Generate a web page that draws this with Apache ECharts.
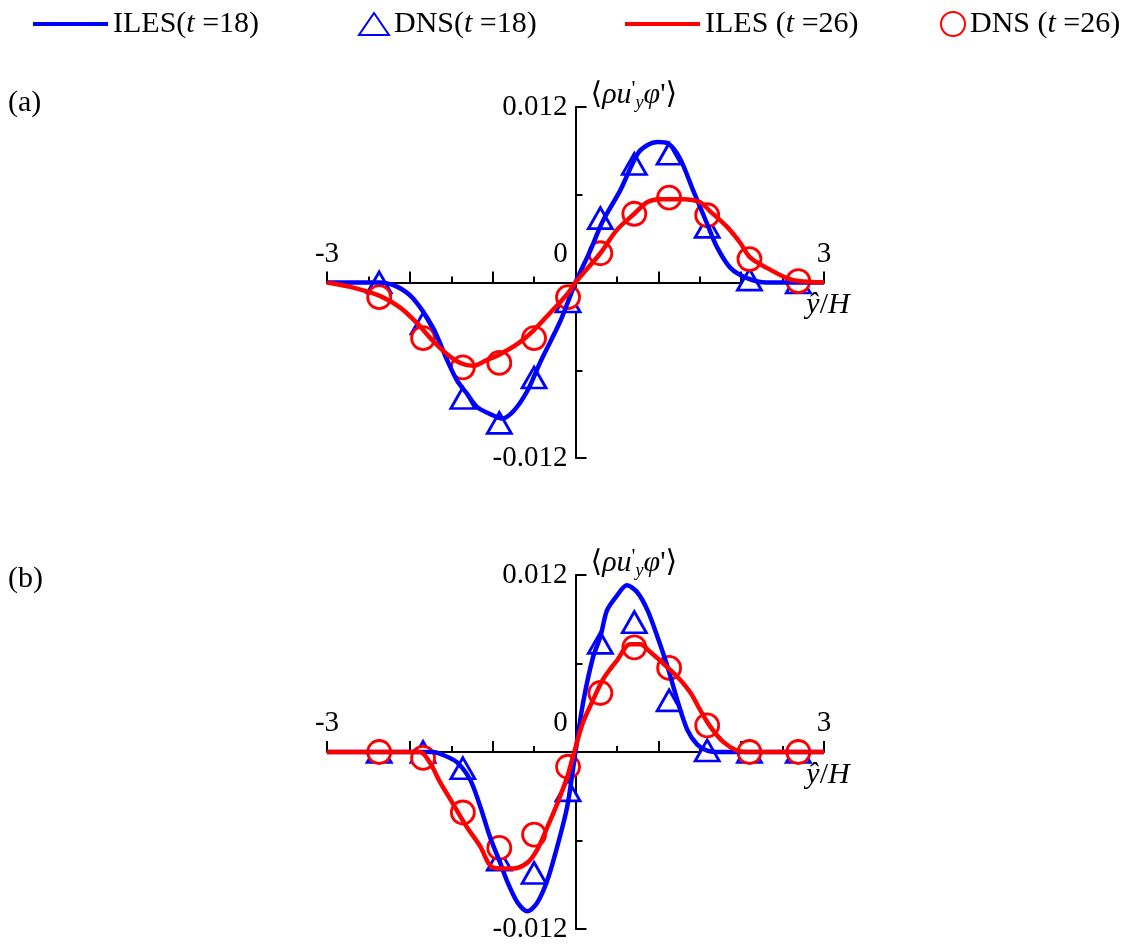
<!DOCTYPE html>
<html>
<head>
<meta charset="utf-8">
<script src="https://cdn.jsdelivr.net/npm/echarts@6.0.0/dist/echarts.min.js"></script>
<style>
  html, body { margin: 0; padding: 0; background: #fff; }
  #chart { width: 1146px; height: 947px; }
</style>
</head>
<body>
<div id="chart"></div>
<script>
// Turbulent scalar flux profiles <rho u'_y phi'> across y/H, two cases (a) and (b)

// DNS sample locations (shared by both panels)
const dnsX = [-2.37, -1.84, -1.36, -0.92, -0.50, -0.09, 0.30, 0.71, 1.13, 1.59, 2.10, 2.69];

// Panel (a)
const dnsA18 = [0, -0.0028, -0.0079, -0.0096, -0.0065, -0.0013, 0.0044, 0.0081, 0.0088, 0.0038, 0.0002, 0];
const dnsA26 = [-0.0010, -0.0038, -0.0058, -0.0055, -0.0038, -0.0010, 0.0020, 0.0047, 0.0058, 0.0046, 0.0016, 0.0001];
const ilesA18X = [-3, -2.6, -2.37, -2.15, -1.96, -1.72, -1.55, -1.43, -1.31, -1.19, -1.03, -0.89, -0.75, -0.58, -0.43, -0.18, 0, 0.18, 0.33, 0.54, 0.75, 0.87, 0.99, 1.12, 1.26, 1.42, 1.59, 1.71, 1.87, 2.07, 2.31, 3];
const ilesA18Y = [0, 0, 0, -0.0003, -0.0011, -0.0031, -0.0053, -0.0067, -0.0076, -0.0085, -0.0090, -0.0093, -0.0088, -0.0074, -0.0055, -0.0026, 0, 0.0022, 0.0042, 0.0063, 0.0088, 0.0094, 0.0096, 0.0095, 0.0085, 0.0063, 0.0040, 0.0024, 0.0010, 0.0003, 0, 0];
const ilesA26X = [-3, -2.72, -2.37, -2.12, -1.91, -1.72, -1.55, -1.39, -1.24, -1.07, -0.91, -0.70, -0.51, -0.31, -0.10, 0, 0.30, 0.50, 0.71, 0.87, 1.02, 1.30, 1.50, 1.62, 1.83, 1.99, 2.11, 2.31, 2.55, 2.69, 3];
const ilesA26Y = [0, -0.0003, -0.0009, -0.0017, -0.0028, -0.0040, -0.0049, -0.0055, -0.0057, -0.0053, -0.0049, -0.0042, -0.0033, -0.0021, -0.0008, 0, 0.0020, 0.0036, 0.0047, 0.0055, 0.0057, 0.0057, 0.0055, 0.0049, 0.0038, 0.0027, 0.0017, 0.0010, 0.0003, 0.0001, 0];

// Panel (b)
const dnsB18 = [0, 0, -0.0011, -0.0073, -0.0082, -0.0026, 0.0074, 0.0088, 0.0035, 0.0001, 0, 0];
const dnsB26 = [0, -0.0004, -0.0041, -0.0065, -0.0056, -0.0010, 0.0040, 0.0071, 0.0057, 0.0018, 0, 0];
const ilesB18X = [-3, -1.72, -1.60, -1.43, -1.27, -1.15, -1.03, -0.91, -0.83, -0.70, -0.58, -0.46, -0.34, -0.22, -0.10, 0, 0.09, 0.21, 0.30, 0.38, 0.50, 0.62, 0.75, 0.87, 0.99, 1.11, 1.23, 1.35, 1.47, 1.59, 1.75, 3];
const ilesB18Y = [0, 0, -0.0002, -0.0007, -0.0019, -0.0037, -0.0058, -0.0075, -0.0087, -0.0102, -0.0108, -0.0102, -0.0087, -0.0064, -0.0037, 0, 0.0033, 0.0064, 0.0078, 0.0096, 0.0106, 0.0113, 0.0108, 0.0096, 0.0078, 0.0058, 0.0035, 0.0015, 0.0005, 0.0001, 0, 0];
const ilesB26X = [-3, -1.88, -1.76, -1.63, -1.48, -1.31, -1.15, -1.03, -0.91, -0.75, -0.58, -0.46, -0.34, -0.22, -0.10, -0.03, 0.09, 0.21, 0.33, 0.50, 0.66, 0.78, 0.90, 1.06, 1.23, 1.39, 1.51, 1.63, 1.78, 1.95, 2.11, 3];
const ilesB26Y = [0, 0, -0.0007, -0.0021, -0.0035, -0.0051, -0.0064, -0.0077, -0.0079, -0.0079, -0.0075, -0.0066, -0.0051, -0.0035, -0.0017, -0.0003, 0.0020, 0.0035, 0.0049, 0.0062, 0.0073, 0.0073, 0.0068, 0.0060, 0.0051, 0.0040, 0.0028, 0.0017, 0.0007, 0.0001, 0, 0];

// Axis ranges and tick labels
const xRange = [-3, 3];
const yRange = [-0.012, 0.012];
const xTickLabels = { '-3': '-3', '0': '{z|0}', '3': '3' };
const panelLabels = ['(a)', '(b)'];

// Series names and their legend texts
const names = ['ILES t=18', 'DNS t=18', 'ILES t=26', 'DNS t=26'];
const legendTexts = {
  'ILES t=18': 'ILES({t|t} =18)',
  'DNS t=18': 'DNS({t|t} =18)',
  'ILES t=26': 'ILES ({t|t} =26)',
  'DNS t=26': 'DNS ({t|t} =26)'
};

const FONT = '"Liberation Serif", "Times New Roman", "DejaVu Serif", serif';
const BLUE = '#0000ff';
const RED = '#ff0000';

const zip = (xs, ys) => xs.map((x, i) => [x, ys[i]]);

const grids = [
  { left: 327, width: 497, top: 107, height: 351 },
  { left: 327, width: 497, top: 575, height: 354 }
];

const axisLineStyle = { color: '#000', width: 2 };

// Axes cross at the origin: shift each axis from the grid edge to the zero line
function makeXAxis(i) {
  const g = grids[i];
  return {
    type: 'value', gridIndex: i, min: xRange[0], max: xRange[1], interval: 1,
    position: 'bottom', offset: -g.height / 2,
    axisLine: { onZero: false, lineStyle: axisLineStyle },
    axisTick: { inside: true, length: 11, lineStyle: axisLineStyle },
    minorTick: { show: true, splitNumber: 2, length: 6, lineStyle: axisLineStyle },
    splitLine: { show: false },
    minorSplitLine: { show: false },
    axisLabel: {
      inside: true, margin: 14, color: '#000', fontFamily: FONT, fontSize: 29,
      showMinLabel: true, showMaxLabel: true, hideOverlap: false,
      formatter: v => xTickLabels[String(Math.round(v * 1000) / 1000)] || '',
      rich: { z: { fontFamily: FONT, fontSize: 29, color: '#000', padding: [0, 30, 0, 0] } }
    },
    name: '{i|ŷ}{n|/}{i|H}',
    nameLocation: 'end',
    nameGap: 0,
    nameTextStyle: {
      align: 'center', verticalAlign: 'top', padding: [8, 0, 0, 8],
      rich: {
        i: { fontFamily: FONT, fontSize: 30, fontStyle: 'italic', color: '#000' },
        n: { fontFamily: FONT, fontSize: 30, color: '#000' }
      }
    }
  };
}

function makeYAxis(i) {
  const g = grids[i];
  return {
    type: 'value', gridIndex: i, min: yRange[0], max: yRange[1], interval: 0.012,
    position: 'left', offset: -g.width / 2,
    axisLine: { onZero: false, lineStyle: axisLineStyle },
    axisTick: { inside: true, length: 11, lineStyle: axisLineStyle },
    minorTick: { show: true, splitNumber: 2, length: 7, lineStyle: axisLineStyle },
    splitLine: { show: false },
    minorSplitLine: { show: false },
    axisLabel: {
      margin: 8, color: '#000', fontFamily: FONT, fontSize: 29, hideOverlap: false,
      formatter: v => Math.abs(v) < 1e-9 ? '' : v.toFixed(3)
    },
    name: '{n|⟨}{i|ρu}{p|\'}{s|y}{i|φ}{n|\'⟩}',
    nameLocation: 'end',
    nameGap: 12,
    nameTextStyle: {
      align: 'left', verticalAlign: 'middle', padding: [0, 0, 0, 15],
      rich: {
        n: { fontFamily: FONT, fontSize: 30, color: '#000', lineHeight: 34 },
        i: { fontFamily: FONT, fontSize: 30, fontStyle: 'italic', color: '#000', lineHeight: 34 },
        p: { fontFamily: FONT, fontSize: 22, color: '#000', verticalAlign: 'top', lineHeight: 34 },
        s: { fontFamily: FONT, fontSize: 18, fontStyle: 'italic', color: '#000', verticalAlign: 'bottom', lineHeight: 34 }
      }
    }
  };
}

function lineSeries(name, i, xs, ys, color) {
  return {
    name, type: 'line', xAxisIndex: i, yAxisIndex: i,
    data: zip(xs, ys), symbol: 'none', smooth: 0.3,
    lineStyle: { color, width: 4.5 }, itemStyle: { color },
    silent: true
  };
}

function markerSeries(name, i, ys, symbol, size, color) {
  return {
    name, type: 'scatter', xAxisIndex: i, yAxisIndex: i,
    data: zip(dnsX, ys), symbol, symbolSize: size,
    itemStyle: { color: '#fff', borderColor: color, borderWidth: 2.8, opacity: 1 },
    silent: true
  };
}

const series = [
  lineSeries(names[0], 0, ilesA18X, ilesA18Y, BLUE),
  markerSeries(names[1], 0, dnsA18, 'triangle', [24, 21], BLUE),
  lineSeries(names[2], 0, ilesA26X, ilesA26Y, RED),
  markerSeries(names[3], 0, dnsA26, 'circle', 23, RED),
  lineSeries(names[0], 1, ilesB18X, ilesB18Y, BLUE),
  markerSeries(names[1], 1, dnsB18, 'triangle', [24, 21], BLUE),
  lineSeries(names[2], 1, ilesB26X, ilesB26Y, RED),
  markerSeries(names[3], 1, dnsB26, 'circle', 23, RED)
];

// Legend: one block per entry; each block's icon and text are centred on the same row
const LEGEND_TOP = 9;
const legendText = {
  color: '#000', fontFamily: FONT, fontSize: 30,
  rich: { t: { fontFamily: FONT, fontSize: 30, fontStyle: 'italic', color: '#000' } }
};
function legendItem(name, left, w, h, icon, color) {
  return {
    data: [icon ? { name, icon, itemStyle: { color, borderWidth: 0 } } : name],
    left, top: LEGEND_TOP, padding: 0,
    itemWidth: w, itemHeight: h, itemGap: 0,
    selectedMode: false, textStyle: legendText,
    formatter: n => legendTexts[n]
  };
}

const option = {
  animation: false,
  backgroundColor: '#fff',
  title: panelLabels.map((t, i) => ({
    text: t, left: 8, top: i === 0 ? 88 : 564, padding: 0,
    textStyle: { fontFamily: FONT, fontSize: 30, fontWeight: 'normal', color: '#000' }
  })),
  legend: [
    legendItem(names[0], 33, 75, 4, 'rect', BLUE),
    legendItem(names[1], 358, 30, 22),
    legendItem(names[2], 625, 75, 4, 'rect', RED),
    legendItem(names[3], 940, 24, 24)
  ],
  grid: grids,
  xAxis: [makeXAxis(0), makeXAxis(1)],
  yAxis: [makeYAxis(0), makeYAxis(1)],
  series
};

const chart = echarts.init(document.getElementById('chart'), null, { renderer: 'canvas' });
chart.setOption(option);
</script>
</body>
</html>
